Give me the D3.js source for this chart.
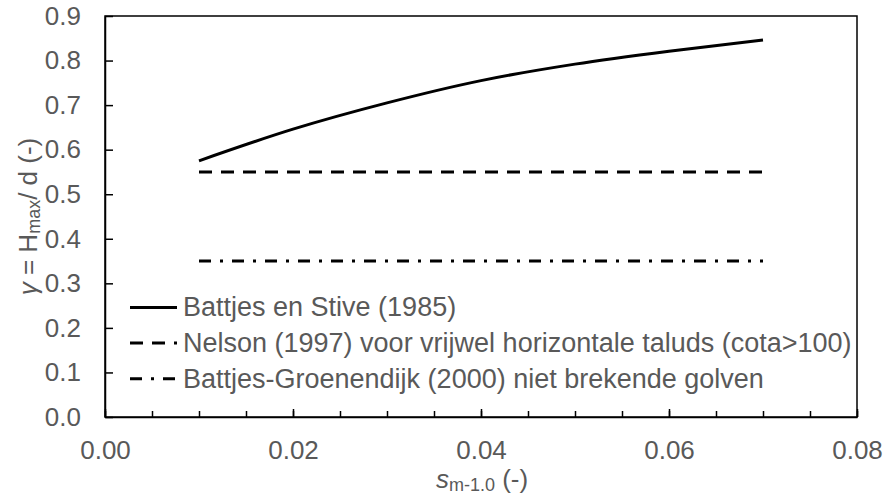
<!DOCTYPE html>
<html>
<head>
<meta charset="utf-8">
<script src="https://cdn.jsdelivr.net/npm/d3@7"></script>
<style>
  body { margin: 0; background: #fff; }
  svg { display: block; font-family: "Liberation Sans", Arial, sans-serif; }
</style>
</head>
<body>
<svg id="chart" width="887" height="497"></svg>
<script>
// steepness s_m-1.0 and breaker index
const sValues = [0.01, 0.02, 0.03, 0.04, 0.05, 0.06, 0.07];
const battjesStive = [0.575, 0.646, 0.705, 0.755, 0.792, 0.821, 0.846];
const nelson = [0.55, 0.55];
const battjesGroenendijk = [0.35, 0.35];
const flatS = [0.01, 0.07];

const xTicks = [0, 0.02, 0.04, 0.06, 0.08];
const xMinorTicks = d3.range(0, 0.0801, 0.005);
const yTicks = [0, 0.1, 0.2, 0.3, 0.4, 0.5, 0.6, 0.7, 0.8, 0.9];

const legendLabels = [
  "Battjes en Stive (1985)",
  "Nelson (1997) voor vrijwel horizontale taluds (cota>100)",
  "Battjes-Groenendijk (2000) niet brekende golven"
];

const textColor = "#595959";
const dashes = [null, "13,9", "12,9,3,9"];

const svg = d3.select("#chart");
const margin = { left: 105, right: 30, top: 16, bottom: 80 };
const width = 887, height = 497;

const xScale = d3.scaleLinear()
  .domain([0, 0.08])
  .range([margin.left, width - margin.right]);
const yScale = d3.scaleLinear()
  .domain([0, 0.9])
  .range([height - margin.bottom, margin.top]);

// plot frame
svg.append("rect")
  .attr("x", xScale(0))
  .attr("y", yScale(0.9))
  .attr("width", xScale(0.08) - xScale(0))
  .attr("height", yScale(0) - yScale(0.9))
  .attr("fill", "none")
  .attr("stroke", "#000")
  .attr("stroke-width", 1.5);

// x axis: minor ticks every 0.005, labels every 0.02
let xMinor = d3.axisBottom(xScale)
  .tickValues(xMinorTicks)
  .tickSizeInner(-6)
  .tickSizeOuter(0)
  .tickFormat("");
svg.append("g")
  .attr("transform", `translate(0, ${yScale(0)})`)
  .call(xMinor)
  .call(g => g.select(".domain").remove())
  .call(g => g.selectAll("line").attr("stroke", "#000").attr("stroke-width", 1.5));

let xAxis = d3.axisBottom(xScale)
  .tickValues(xTicks)
  .tickSizeInner(-8)
  .tickSizeOuter(0)
  .tickPadding(24)
  .tickFormat(d3.format(".2f"));
svg.append("g")
  .attr("transform", `translate(0, ${yScale(0)})`)
  .call(xAxis)
  .call(g => g.select(".domain").attr("stroke", "#000").attr("stroke-width", 1.5))
  .call(g => g.selectAll("line").attr("stroke", "#000").attr("stroke-width", 1.5))
  .call(g => g.selectAll("text")
    .attr("fill", textColor)
    .attr("font-size", 26)
    .attr("font-family", "Liberation Sans, Arial, sans-serif"));

let yAxis = d3.axisLeft(yScale)
  .tickValues(yTicks)
  .tickSizeInner(-8)
  .tickSizeOuter(0)
  .tickPadding(24)
  .tickFormat(d3.format(".1f"));
svg.append("g")
  .attr("transform", `translate(${xScale(0)}, 0)`)
  .call(yAxis)
  .call(g => g.select(".domain").attr("stroke", "#000").attr("stroke-width", 1.5))
  .call(g => g.selectAll("line").attr("stroke", "#000").attr("stroke-width", 1.5))
  .call(g => g.selectAll("text")
    .attr("fill", textColor)
    .attr("font-size", 26)
    .attr("font-family", "Liberation Sans, Arial, sans-serif"));

// series
let curveLine = d3.line()
  .x(d => xScale(d[0]))
  .y(d => yScale(d[1]))
  .curve(d3.curveMonotoneX);

let series = [
  d3.zip(sValues, battjesStive),
  d3.zip(flatS, nelson),
  d3.zip(flatS, battjesGroenendijk)
];

svg.append("g")
  .selectAll("path")
  .data(series)
  .enter()
  .append("path")
  .attr("d", curveLine)
  .attr("fill", "none")
  .attr("stroke", "#000")
  .attr("stroke-width", 3)
  .attr("stroke-dasharray", (d, i) => dashes[i]);

// legend inside plot
let legendY = [0.246, 0.166, 0.086];
let legend = svg.append("g")
  .selectAll("g")
  .data(legendLabels)
  .enter()
  .append("g")
  .attr("transform", (d, i) => `translate(130, ${yScale(legendY[i])})`);

legend.append("line")
  .attr("x1", 0)
  .attr("x2", 47)
  .attr("stroke", "#000")
  .attr("stroke-width", 3)
  .attr("stroke-dasharray", (d, i) => dashes[i]);

legend.append("text")
  .attr("x", 53)
  .attr("y", 9)
  .attr("fill", textColor)
  .attr("font-size", 27)
  .text(d => d);

// axis titles
let xTitle = svg.append("text")
  .attr("x", 482)
  .attr("y", 488)
  .attr("text-anchor", "middle")
  .attr("fill", textColor)
  .attr("font-size", 26);
xTitle.append("tspan").attr("font-style", "italic").text("s");
xTitle.append("tspan").attr("font-size", 18).attr("dy", 3).text("m-1.0");
xTitle.append("tspan").attr("dy", -3).text(" (-)");

let yTitle = svg.append("text")
  .attr("transform", `translate(37, ${(yScale(0) + yScale(0.9)) / 2}) rotate(-90)`)
  .attr("text-anchor", "middle")
  .attr("fill", textColor)
  .attr("font-size", 26);
yTitle.append("tspan").attr("font-style", "italic").text("γ");
yTitle.append("tspan").text(" = H");
yTitle.append("tspan").attr("font-size", 18).attr("dy", 3).text("max");
yTitle.append("tspan").attr("dy", -3).text("/ d (-)");
</script>
</body>
</html>
